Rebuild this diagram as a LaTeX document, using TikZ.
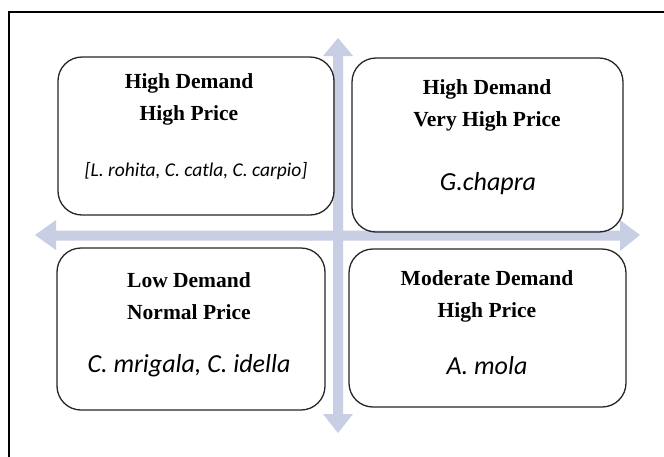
\documentclass[tikz,border=0pt]{standalone}
\usepackage{fontspec}
\setmainfont{Liberation Serif}
\newfontfamily\spfont{Carlito}
\definecolor{arrowblue}{RGB}{200,206,228}
\begin{document}
\begin{tikzpicture}[x=1pt,y=-1pt,
  quad/.style={draw=black!85, line width=1.3pt, rounded corners=24pt},
  head/.style={font=\fontsize{21.5}{32}\selectfont\bfseries, align=center, inner sep=0pt},
  species/.style={font=\spfont\itshape\fontsize{26}{28}\selectfont, inner sep=0pt},
  blockarrow/.style={fill=arrowblue, draw=none}]
\useasboundingbox (0,0) rectangle (664,456);
\fill[white] (0,0) rectangle (664,456);
% frame
\draw[line width=1.6pt] (9,470) -- (9,12) -- (680,12);
% arrows
\fill[blockarrow] (338,38) -- (353,56) -- (343,56) -- (343,414) -- (353,414) -- (338,433)
  -- (323,414) -- (333,414) -- (333,56) -- (323,56) -- cycle;
\fill[blockarrow] (35,235) -- (56,220) -- (56,230.5) -- (620,230.5) -- (620,220) -- (640,235)
  -- (620,251) -- (620,240.5) -- (56,240.5) -- (56,250) -- cycle;
% boxes
\draw[quad] (58,57) rectangle (334,215);
\draw[quad] (352,58) rectangle (623,232);
\draw[quad] (57,248) rectangle (325,410);
\draw[quad] (349,249) rectangle (626,407);
% texts
\node[head] (tlh) at (189,99) {High Demand\\High Price};
\node[species, font=\spfont\itshape\fontsize{19.5}{21}\selectfont] (tls) at (196,171) {[L. rohita, C. catla, C. carpio]};
\node[head] (trh) at (487,105) {High Demand\\Very High Price};
\node[species] (trs) at (488,184) {G.chapra};
\node[head] (blh) at (189,296) {Low Demand\\Normal Price};
\node[species] (bls) at (189,366) {C. mrigala, C. idella};
\node[head] (brh) at (487,296) {Moderate Demand\\High Price};
\node[species] (brs) at (487,366) {A. mola};
\end{tikzpicture}
\end{document}
